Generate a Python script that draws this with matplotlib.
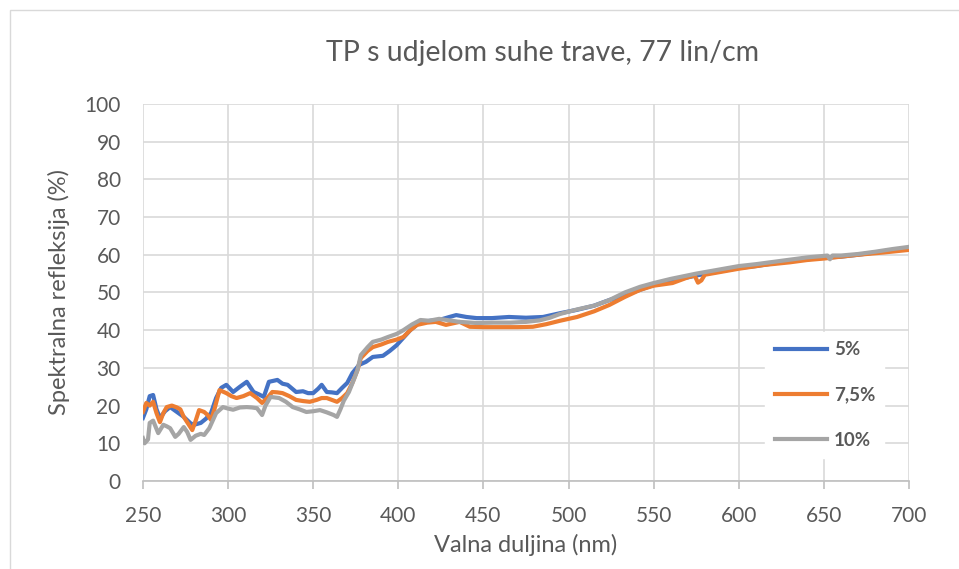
import matplotlib
matplotlib.use("Agg")
from matplotlib import pyplot as plt
from matplotlib.patches import Rectangle

# valna duljina (nm) i refleksija (%) za svaki udio
x_5 = [250, 252, 254, 256, 258, 260, 263, 266, 270, 274, 278, 280, 284, 287, 290, 293, 296, 299,
       303, 307, 311, 315, 318, 321, 324, 329, 332, 335, 340, 344, 347, 350, 353, 355, 358, 361,
       364, 367, 370, 373, 377, 381, 385, 391, 395, 399, 403, 407, 413, 419, 424, 430, 434, 440,
       446, 455, 465, 475, 485, 495, 505, 515, 524, 533, 542, 550, 560, 570, 575, 585, 600, 610,
       620, 630, 640, 650, 660, 670, 680, 690, 700]
y_5 = [16.7, 19, 22.5, 22.8, 19, 16.7, 18.5, 19.6, 18.3, 17, 15.3, 14.9, 15.4, 16.5, 18, 22, 24.7, 25.5,
       23.6, 25, 26.3, 23.6, 23, 22.3, 26.3, 26.8, 25.8, 25.5, 23.6, 23.8, 23.3, 23.3, 24.5, 25.5, 23.6, 23.5,
       23.3, 24.7, 26, 28.6, 30.8, 31.6, 32.9, 33.2, 34.5, 36, 38, 40, 42.2, 42.5, 42.7, 43.5, 44, 43.5,
       43.2, 43.2, 43.5, 43.3, 43.5, 44.5, 45.4, 46.5, 48, 49.3, 50.7, 52, 53.2, 54, 54.5, 55.3, 56.5, 57,
       57.7, 58.3, 58.8, 59.2, 59.5, 60, 60.6, 61.2, 61.8]

x_75 = [250, 252, 254, 256, 258, 260, 262, 264, 267, 270, 272, 274, 276, 279, 281, 283, 286, 288,
        290, 292, 295, 299, 302, 305, 309, 313, 317, 320, 323, 326, 329, 332, 336, 340, 344, 348,
        352, 355, 358, 361, 364, 367, 370, 373, 376, 378, 382, 385, 390, 394, 399, 403, 407, 411,
        417, 422, 428, 436, 442, 450, 460, 470, 479, 487, 495, 505, 515, 524, 533, 542, 550, 561,
        570, 574, 576, 578, 580, 590, 600, 615, 630, 640, 650, 660, 670, 685, 700]
y_75 = [18.3, 20.7, 20, 21, 18, 15.6, 18, 19.6, 20, 19.5, 19, 17, 15.6, 13.5, 16, 18.8, 18.3, 17.5,
        16.2, 19, 24.1, 23.3, 22.5, 22, 22.5, 23.3, 22, 20.7, 22, 23.6, 23.5, 23.3, 22.5, 21.5, 21.2, 21,
        21.5, 22, 22, 21.5, 21, 22, 23.3, 26, 29.4, 32.6, 34.5, 35.5, 36.2, 36.9, 37.5, 38.2, 40, 41.4,
        42, 42.2, 41.4, 42.2, 40.9, 40.8, 40.8, 40.8, 40.9, 41.6, 42.5, 43.5, 45, 46.7, 48.8, 50.7, 51.8, 52.5,
        54, 54.5, 52.6, 53.2, 54.7, 55.5, 56.3, 57.3, 58, 58.6, 59, 59.5, 60, 60.6, 61.3]

x_10 = [250, 251, 253, 254, 256, 259, 262, 264, 266, 269, 271, 274, 276, 278, 281, 284, 286, 289,
        291, 293, 297, 300, 303, 307, 311, 314, 317, 320, 322, 325, 330, 334, 338, 342, 346, 350,
        354, 358, 362, 364, 366, 368, 371, 374, 376, 378, 382, 385, 390, 394, 399, 403, 408, 413,
        418, 424, 430, 436, 446, 456, 466, 475, 483, 489, 495, 505, 515, 524, 533, 542, 550, 560,
        575, 590, 600, 610, 620, 630, 640, 650, 652, 653.5, 655, 660, 670, 680, 690, 700]
y_10 = [11.4, 10, 11, 15.4, 16, 12.7, 14.9, 14.5, 14, 11.7, 12.5, 14.3, 13, 10.9, 12, 12.5, 12.2, 14,
        16, 18, 19.6, 19.2, 18.9, 19.5, 19.6, 19.5, 19.3, 17.5, 20, 22.3, 22, 21, 19.6, 19, 18.3, 18.5,
        18.8, 18.2, 17.5, 17, 19, 21.3, 23.6, 27, 29.4, 33.4, 35.5, 36.9, 37.5, 38.2, 39, 40, 41.5, 42.7,
        42.5, 43, 42.6, 42.2, 41.9, 42, 42, 42.2, 42.6, 43.3, 44.3, 45.5, 46.5, 48, 50, 51.5, 52.5, 53.6,
        55, 56.2, 57, 57.5, 58.1, 58.7, 59.3, 59.7, 59.8, 58.8, 59.8, 59.8, 60.2, 60.8, 61.5, 62.1]

labels = ["5%", "7,5%", "10%"]
colors = ["#4472C4", "#ED7D31", "#A5A5A5"]

plt.rcParams["font.family"] = ["Lato", "DejaVu Sans"]
text_color = "#595959"

fig = plt.figure(figsize=(9.59, 5.69), dpi=100)
ax = fig.add_axes([0.149, 0.1547, 0.799, 0.6626])

for xs, ys, lab, col in zip([x_5, x_75, x_10], [y_5, y_75, y_10], labels, colors):
    ax.plot(xs, ys, color=col, linewidth=3.0, label=lab, solid_joinstyle="round")

ax.set_xlim(250, 700)
ax.set_ylim(0, 100)
ax.set_xticks(range(250, 701, 50))
ax.set_yticks(range(0, 101, 10))
ax.grid(True, color="#D9D9D9", linewidth=1.2)
ax.set_axisbelow(True)
for side in ["top", "right", "left"]:
    ax.spines[side].set_visible(False)
ax.spines["bottom"].set_color("#BFBFBF")
ax.spines["bottom"].set_linewidth(1.2)
ax.tick_params(axis="x", colors="#BFBFBF", length=6, width=1.2, labelcolor=text_color, labelsize=15, pad=12)
ax.tick_params(axis="y", length=0, labelcolor=text_color, labelsize=15, pad=16)

ax.set_xlabel("Valna duljina (nm)", fontsize=17, color=text_color, labelpad=6)
ax.set_ylabel("Spektralna refleksija (%)", fontsize=17, color=text_color, labelpad=10)
fig.text(0.566, 0.906, "TP s udjelom suhe trave, 77 lin/cm", ha="center", va="center",
         fontsize=20.5, color=text_color)

leg = ax.legend(loc="center left", bbox_to_anchor=(0.80, 0.228), frameon=True, fancybox=False,
                edgecolor="white", facecolor="white", framealpha=1, fontsize=13.5,
                labelspacing=1.5, handlelength=2.8, handletextpad=0.35, borderpad=0.5)
for t in leg.get_texts():
    t.set_color(text_color)
    t.set_fontweight("bold")

# okvir grafikona
fig.patches.append(Rectangle((10 / 959, -0.1), 1.2, 1.1 - 10 / 569, transform=fig.transFigure,
                             fill=False, edgecolor="#D9D9D9", linewidth=1))

plt.savefig("out.png", dpi=100)
